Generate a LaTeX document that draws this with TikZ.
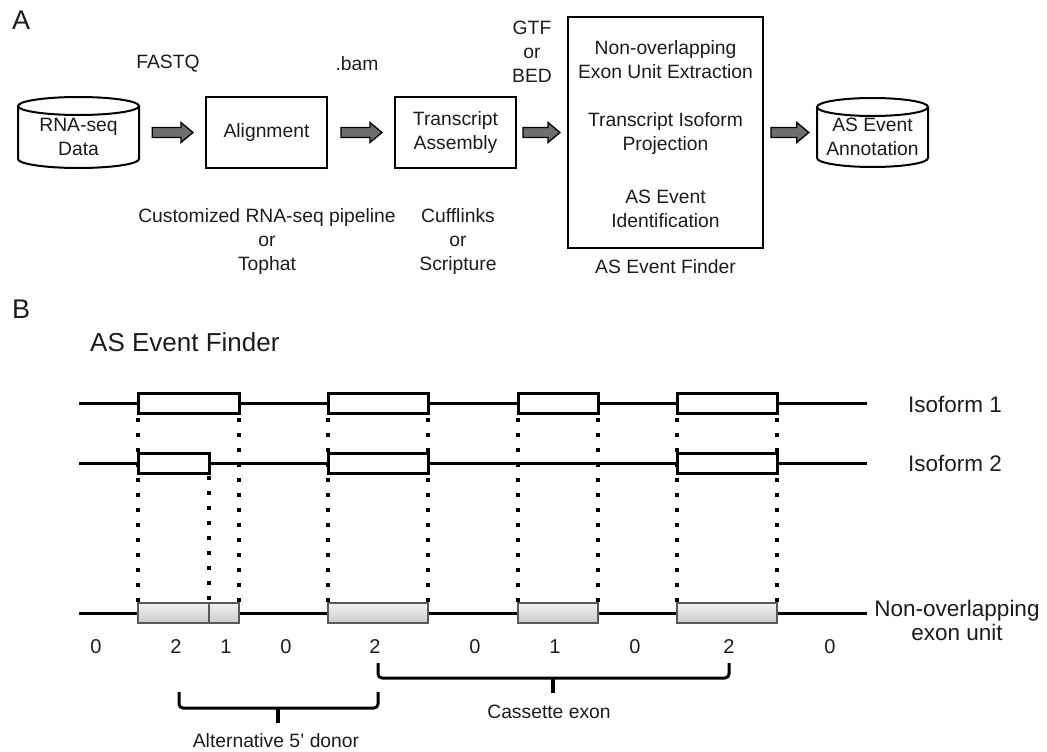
\documentclass[tikz,border=0pt]{standalone}
\usepackage{fontspec}
\setmainfont{Liberation Sans}
\usetikzlibrary{calc}
\definecolor{ink}{HTML}{1C1C1C}
\definecolor{arrowgray}{HTML}{6E6E6E}

% block arrow between two anchors, with gaps at both ends
\newcommand\blockarrow[4]{%
  \path let \p1=(#1), \p2=(#2) in
    [fill=arrowgray, draw=black, line width=1.3pt, line join=miter]
    (\x1+#3pt,\y1+5pt) -- (\x2-#4pt-12pt,\y1+5pt) -- (\x2-#4pt-12pt,\y1+10pt)
    -- (\x2-#4pt,\y1) -- (\x2-#4pt-12pt,\y1-10pt) -- (\x2-#4pt-12pt,\y1-5pt)
    -- (\x1+#3pt,\y1-5pt) -- cycle;}

% database cylinder: centre x, top y, bottom y, half width
\newcommand\dbcyl[4]{%
  \draw[line width=2pt, fill=white]
    (#1-#4,#2+9) -- (#1-#4,#3-9)
    arc[start angle=180, end angle=360, x radius=#4pt, y radius=9pt]
    -- (#1+#4,#2+9);
  \draw[line width=2pt, fill=white] (#1,#2+9) ellipse[x radius=#4pt, y radius=9pt];}

\tikzset{
  lbl/.style={font=\fontsize{19.3}{24}\selectfont, text=ink, inner sep=0pt, align=center},
  big/.style={font=\fontsize{22.5}{24}\selectfont, text=ink, inner sep=0pt, align=center},
  num/.style={font=\fontsize{20}{24}\selectfont, text=ink, inner sep=0pt},
  panel/.style={font=\fontsize{27}{30}\selectfont, text=ink, inner sep=0pt, anchor=west},
  procbox/.style={draw=black, line width=2pt, inner sep=0pt, lbl},
  gene/.style={line width=3pt, black},
  exonbox/.style={draw=black, line width=3pt, fill=white},
  unitbox/.style={draw=black!65, line width=1.2pt, top color=gray!10, bottom color=gray!40},
  guide/.style={line width=3.6pt, dash pattern=on 3.6pt off 11.4pt, line cap=butt},
  bracket/.style={line width=3pt, rounded corners=4pt, line join=round},
}

\begin{document}
\begin{tikzpicture}[x=1pt, y=-1pt]
\useasboundingbox (0,0) rectangle (1047,752);

% ---------------- Panel A: pipeline ----------------
\node[panel] (pA) at (12,20) {A};

\dbcyl{78.5}{97}{168}{60.5}
\node[minimum width=121pt, minimum height=71pt, inner sep=0pt] (data) at (78.5,132.5) {};
\node[lbl] (datatxt) at (78.5,137) {RNA-seq\\Data};

\node[procbox, minimum width=121pt, minimum height=71pt] (align) at (266.5,132.5) {Alignment};
\node[procbox, minimum width=121pt, minimum height=71pt] (trans) at (455.5,132.5) {Transcript\\Assembly};
\node[draw=black, line width=2pt, minimum width=195pt, minimum height=231pt, inner sep=0pt] (finder) at (665.5,132.5) {};
\node[lbl] (f1) at (665.5,59.5) {Non-overlapping\\Exon Unit Extraction};
\node[lbl] (f2) at (665.5,134) {Transcript Isoform\\Projection};
\node[lbl] (f3) at (665.5,208.5) {AS Event\\Identification};
\node[lbl] (fcap) at (665.5,267) {AS Event Finder};

\dbcyl{872.5}{98}{167}{55.5}
\node[minimum width=111pt, minimum height=69pt, inner sep=0pt] (annot) at (872.5,132.5) {};
\node[lbl] (annottxt) at (872.5,137) {AS Event\\Annotation};

\blockarrow{data.east}{align.west}{13}{12}
\blockarrow{align.east}{trans.west}{13}{12}
\blockarrow{trans.east}{finder.west}{6}{7}
\blockarrow{finder.east}{annot.west}{7}{8}

\node[lbl] (fastq) at (168,64) {FASTQ};
\node[lbl] (bam) at (357,64) {.bam};
\node[lbl] (gtf) at (532,52) {GTF\\or\\BED};
\node[lbl] (aligners) at (267,242) {Customized RNA-seq pipeline\\or\\Tophat};
\node[lbl] (assemblers) at (458,242) {Cufflinks\\or\\Scripture};

% ---------------- Panel B: exon units ----------------
\node[panel] (pB) at (12,309) {B};
\node[font=\fontsize{26}{30}\selectfont, text=ink, inner sep=0pt, anchor=west] (title) at (90,342) {AS Event Finder};

% projection guides
\foreach \gx in {138,239,328,428,518,598,677,777}
  \draw[guide, dash phase=-3pt] (\gx,415) -- (\gx,603);
\draw[guide, dash phase=-1pt] (209,475) -- (209,603);

% isoform 1
\draw[gene] (79,403) -- (867,403);
\foreach \a/\b in {138/239,328/428,518/598,677/777}
  \draw[exonbox] (\a,393) rectangle (\b,413);
% isoform 2
\draw[gene] (79,463) -- (867,463);
\foreach \a/\b in {138/209,328/428,677/777}
  \draw[exonbox] (\a,453) rectangle (\b,473);
% non-overlapping exon units
\draw[gene] (79,613) -- (867,613);
\foreach \a/\b in {138/209,209/239,328/428,518/598,677/777}
  \draw[unitbox] (\a,603) rectangle (\b,623);

\node[big] (iso1) at (955,404) {Isoform 1};
\node[big] (iso2) at (955,463) {Isoform 2};
\node[big] (units) at (957,620) {Non-overlapping\\exon unit};

\foreach \nx/\nv [count=\i] in {96/0,176/2,226/1,286/0,375/2,475/0,555/1,635/0,729/2,830/0}
  \node[num] (n\i) at (\nx,647) {\nv};

% event brackets
\draw[bracket] (179,692) -- (179,708) -- (378,708) -- (378,692);
\draw[line width=3.5pt] (278,707) -- (278,723);
\node[lbl] (alt5) at (276,741) {Alternative 5’ donor};

\draw[bracket] (378,663) -- (378,678) -- (729,678) -- (729,663);
\draw[line width=3.5pt] (553,677) -- (553,693);
\node[lbl] (cass) at (549,712) {Cassette exon};
\end{tikzpicture}
\end{document}
